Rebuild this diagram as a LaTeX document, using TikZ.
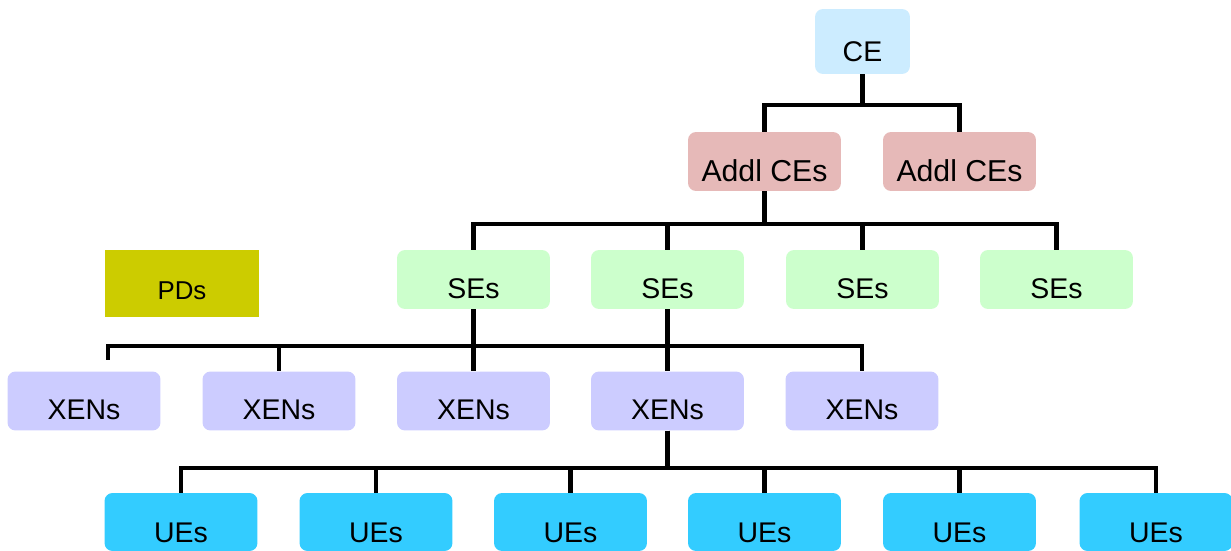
\documentclass[tikz,border=0pt]{standalone}
\usepackage{fontspec}
\setmainfont{Liberation Sans}
\definecolor{ceblue}{HTML}{CCECFF}
\definecolor{addlred}{HTML}{E6B9B8}
\definecolor{segreen}{HTML}{CCFFCC}
\definecolor{pdolive}{HTML}{CCCC00}
\definecolor{xenlilac}{HTML}{CCCCFF}
\definecolor{uecyan}{HTML}{33CCFF}

\begin{document}
\begin{tikzpicture}[x=0.02cm,y=-0.02cm,
  box/.style={rounded corners=0.16cm,inner sep=0pt,minimum width=3.06cm,minimum height=1.18cm,
    text depth=0pt,text height=0.77cm,font=\fontsize{16.2}{19}\selectfont},
  cebox/.style={box,fill=ceblue,minimum width=1.9cm,minimum height=1.3cm,text height=0.82cm},
  addlbox/.style={box,fill=addlred,text height=0.8cm,font=\fontsize{17.2}{20}\selectfont},
  sebox/.style={box,fill=segreen},
  pdbox/.style={box,rounded corners=0pt,fill=pdolive,minimum width=3.08cm,minimum height=1.34cm,
    text height=0.62cm,font=\fontsize{14.7}{17}\selectfont},
  xenbox/.style={box,fill=xenlilac,text height=0.76cm},
  uebox/.style={box,fill=uecyan,minimum height=1.16cm,text height=0.82cm},
  link/.style={line width=2.55pt}]
\useasboundingbox (0,0) rectangle (1231,551);

\node[cebox] (ce) at (862.5,41.5) {CE};
\node[addlbox] (addl1) at (764.5,161.5) {Addl CEs};
\node[addlbox] (addl2) at (959.5,161.5) {Addl CEs};
\node[pdbox] (pd) at (182,283.5) {PDs};
\node[sebox] (se1) at (473.5,279.5) {SEs};
\node[sebox] (se2) at (667.5,279.5) {SEs};
\node[sebox] (se3) at (862.5,279.5) {SEs};
\node[sebox] (se4) at (1056.5,279.5) {SEs};
\node[xenbox] (xen1) at (84,401) {XENs};
\node[xenbox] (xen2) at (279,401) {XENs};
\node[xenbox] (xen3) at (473.5,401) {XENs};
\node[xenbox] (xen4) at (667.5,401) {XENs};
\node[xenbox] (xen5) at (862,401) {XENs};
\node[uebox] (ue1) at (181,522) {UEs};
\node[uebox] (ue2) at (376,522) {UEs};
\node[uebox] (ue3) at (570.5,522) {UEs};
\node[uebox] (ue4) at (764.5,522) {UEs};
\node[uebox] (ue5) at (959.5,522) {UEs};
\node[uebox] (ue6) at (1156,522) {UEs};

\coordinate (busA) at (0,105);
\coordinate (busB) at (0,224);
\coordinate (busC) at (0,346);
\coordinate (busD) at (0,468);
\coordinate (xenend) at (108,360);

\draw[link] (ce.south) -- (ce.south |- busA) -| (addl1.north);
\draw[link] (ce.south |- busA) -| (addl2.north);
\foreach \n in {se1,se2,se3,se4}
  \draw[link] (addl1.south) -- (addl1.south |- busB) -| (\n.north);
\draw[link] (se1.south) -- (se1.south |- busC) -| (xenend);
\foreach \n in {xen2,xen3}
  \draw[link] (se1.south) -- (se1.south |- busC) -| (\n.north);
\foreach \n in {xen3,xen4,xen5}
  \draw[link] (se2.south) -- (se2.south |- busC) -| (\n.north);
\foreach \n in {ue1,ue2,ue3,ue4,ue5,ue6}
  \draw[link] (xen4.south) -- (xen4.south |- busD) -| (\n.north);
\end{tikzpicture}
\end{document}
